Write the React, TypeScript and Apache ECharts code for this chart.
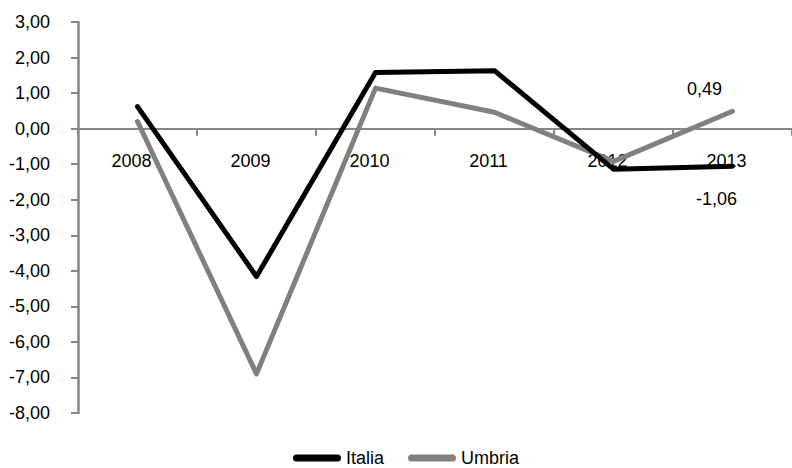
import React, { useEffect, useRef } from "react";
import * as echarts from "echarts";

const categories = ["2008", "2009", "2010", "2011", "2012", "2013"];
const italia = [0.62, -4.16, 1.58, 1.63, -1.14, -1.06];
const umbria = [0.2, -6.9, 1.14, 0.46, -0.92, 0.49];
const seriesNames = ["Italia", "Umbria"];

const FONT = "'Liberation Sans', Arial, sans-serif";
const FS = 18;
const fmt = (v: number) => v.toFixed(2).replace(".", ",");

const GRID_TOP = 22;
const GRID_BOTTOM = 55;
const Y_MIN = -8;
const Y_MAX = 3;

export default function App() {
  const ref = useRef<HTMLDivElement>(null);
  useEffect(() => {
    if (!ref.current) return;
    const chart = echarts.init(ref.current, undefined, { renderer: "svg" });
    const last = categories.length - 1;
    const plotH = 468 - GRID_TOP - GRID_BOTTOM;
    const zeroFromBottom = ((0 - Y_MIN) / (Y_MAX - Y_MIN)) * plotH;
    const mk = (vals: number[], pos: "top" | "bottom", dist: number, off: [number, number]) =>
      vals.map((v, i) =>
        i === last
          ? {
              value: v,
              label: {
                show: true,
                position: pos,
                distance: dist,
                offset: off,
                formatter: () => fmt(v),
                color: "#000",
                fontSize: FS,
                fontFamily: FONT,
              },
            }
          : v
      );
    chart.setOption({
      animation: false,
      grid: { left: 78, right: -6, top: GRID_TOP, bottom: GRID_BOTTOM, containLabel: false },
      legend: {
        data: seriesNames,
        left: 293,
        top: 449,
        padding: 0,
        itemWidth: 48,
        itemHeight: 7,
        itemGap: 24,
        icon: "path://M3.5,0H44.5A3.5,3.5,0,0,1,44.5,7H3.5A3.5,3.5,0,0,1,3.5,0Z",
        textStyle: { fontSize: FS, lineHeight: 18, fontFamily: FONT, color: "#000" },
      },
      xAxis: {
        type: "category",
        data: categories,
        boundaryGap: true,
        position: "bottom",
        offset: -zeroFromBottom,
        axisLine: { onZero: false, lineStyle: { color: "#868686", width: 2 } },
        axisTick: { show: true, length: 7, interval: 0, lineStyle: { color: "#868686", width: 2 } },
        axisLabel: {
          margin: 23,
          fontSize: FS,
          fontFamily: FONT,
          color: "#000",
          padding: [0, 12, 0, 0],
          interval: 0,
        },
        splitLine: { show: false },
      },
      yAxis: {
        type: "value",
        min: Y_MIN,
        max: Y_MAX,
        interval: 1,
        axisLine: { show: true, lineStyle: { color: "#868686", width: 2.5 } },
        axisTick: { show: true, length: 7, lineStyle: { color: "#868686", width: 2 } },
        axisLabel: {
          margin: 28,
          fontSize: FS,
          fontFamily: FONT,
          color: "#000",
          formatter: (v: number) => fmt(v),
        },
        splitLine: { show: false },
      },
      series: [
        {
          name: seriesNames[0],
          type: "line",
          data: mk(italia, "bottom", 23, [-16, 0]),
          symbol: "circle",
          symbolSize: 1,
          showSymbol: true,
          itemStyle: { color: "#000" },
          lineStyle: { color: "#000", width: 5, cap: "round", join: "round" },
          z: 3,
        },
        {
          name: seriesNames[1],
          type: "line",
          data: mk(umbria, "top", 13, [-28, 0]),
          symbol: "circle",
          symbolSize: 1,
          showSymbol: true,
          itemStyle: { color: "#808080" },
          lineStyle: { color: "#808080", width: 5, cap: "round", join: "round" },
          z: 2,
        },
      ],
    });
    return () => chart.dispose();
  }, []);
  return (
    <div
      ref={ref}
      style={{ position: "fixed", left: 0, top: 0, width: 792, height: 468, background: "#fff" }}
    />
  );
}
